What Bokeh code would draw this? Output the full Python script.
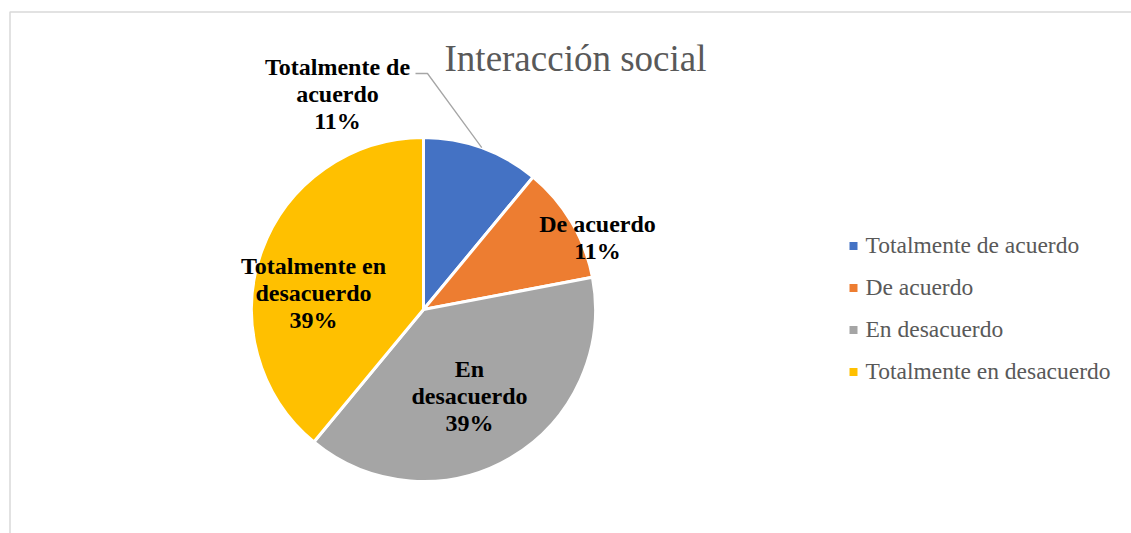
import math
from bokeh.plotting import figure
from bokeh.models import Range1d, ColumnDataSource
from bokeh.core.properties import value
from bokeh.embed import file_html
from bokeh.resources import INLINE

# ---- data ----
categories = ["Totalmente de acuerdo", "De acuerdo", "En desacuerdo", "Totalmente en desacuerdo"]
percentages = [11, 11, 39, 39]
colors = ["#4472C4", "#ED7D31", "#A5A5A5", "#FFC000"]
label_lines = [["Totalmente de", "acuerdo"], ["De acuerdo"], ["En", "desacuerdo"], ["Totalmente en", "desacuerdo"]]
title_text = "Interacción social"

# ---- layout (screen pixels; data y = 533 - screen y) ----
W, H = 1131, 533
def Y(sy):
    return 533 - sy

TS = 8.5  # baseline correction for text rendering
def TY(sy):
    return Y(sy - TS)

cx, cy, r = 423, Y(309), 172
# first-line baseline position of each data label (screen px)
label_pos = [(337, 75), (597, 232), (469, 377), (313, 274)]
line_step = 26.8
leader_start = (415, 73)
leader_knee = (427, 73)

p = figure(width=W, height=H, output_backend="svg", toolbar_location=None,
           x_range=Range1d(0, W), y_range=Range1d(533 - H, 533),
           min_border=0, outline_line_color=None, background_fill_color="white",
           border_fill_color="white")
p.axis.visible = False
p.grid.visible = False

# chart border (light gray frame, cut at right/bottom)
p.quad(left=[9.5], right=[3000], top=[Y(11.5)], bottom=[-500], fill_color=None,
       line_color="#d9d9d9", line_width=1.5)

# wedges
total = float(sum(percentages))
cum = [0.0]
for v in percentages:
    cum.append(cum[-1] + v / total)
starts = [math.pi / 2 - 2 * math.pi * cum[i + 1] for i in range(len(percentages))]
ends = [math.pi / 2 - 2 * math.pi * cum[i] for i in range(len(percentages))]
src = ColumnDataSource(dict(start=starts, end=ends, color=colors))
p.wedge(x=cx, y=cy, radius=r, start_angle="start", end_angle="end", color="color",
        line_color="white", line_width=3, source=src)

# data labels
lx, ly, lt = [], [], []
for i, cat in enumerate(categories):
    lines = label_lines[i] + [f"{round(percentages[i] / total * 100)}%"]
    x0, y0 = label_pos[i]
    for k, t in enumerate(lines):
        lx.append(x0)
        ly.append(TY(y0 + k * line_step))
        lt.append(t)
p.text(x=lx, y=ly, text=lt, text_font=value("Liberation Serif"), text_font_style="bold",
       text_font_size="24px", text_align="center", text_baseline="alphabetic", text_color="black")

# leader line for first slice
mid = 2 * math.pi * (cum[0] + cum[1]) / 2
ex = cx + r * math.sin(mid)
ey = cy + r * math.cos(mid)
p.line(x=[leader_start[0], leader_knee[0], ex], y=[Y(leader_start[1]), Y(leader_knee[1]), ey],
       line_color="#a6a6a6", line_width=1.3)

# title
p.text(x=[575], y=[TY(66)], text=[title_text], text_font=value("Liberation Serif"),
       text_font_size="37px", text_align="center", text_baseline="alphabetic", text_color="#595959")

# legend
leg_y0, leg_step = 253, 42
mx = [853] * len(categories)
my = [Y(leg_y0 - 7.5 + i * leg_step) for i in range(len(categories))]
p.scatter(x=mx, y=my, marker="square", size=8, color=colors, line_color=None)
p.text(x=[865] * len(categories), y=[TY(leg_y0 + i * leg_step) for i in range(len(categories))],
       text=categories, text_font=value("Liberation Serif"), text_font_size="23.5px",
       text_align="left", text_baseline="alphabetic", text_color="#595959")

open("out.html", "w").write(file_html(p, INLINE))
